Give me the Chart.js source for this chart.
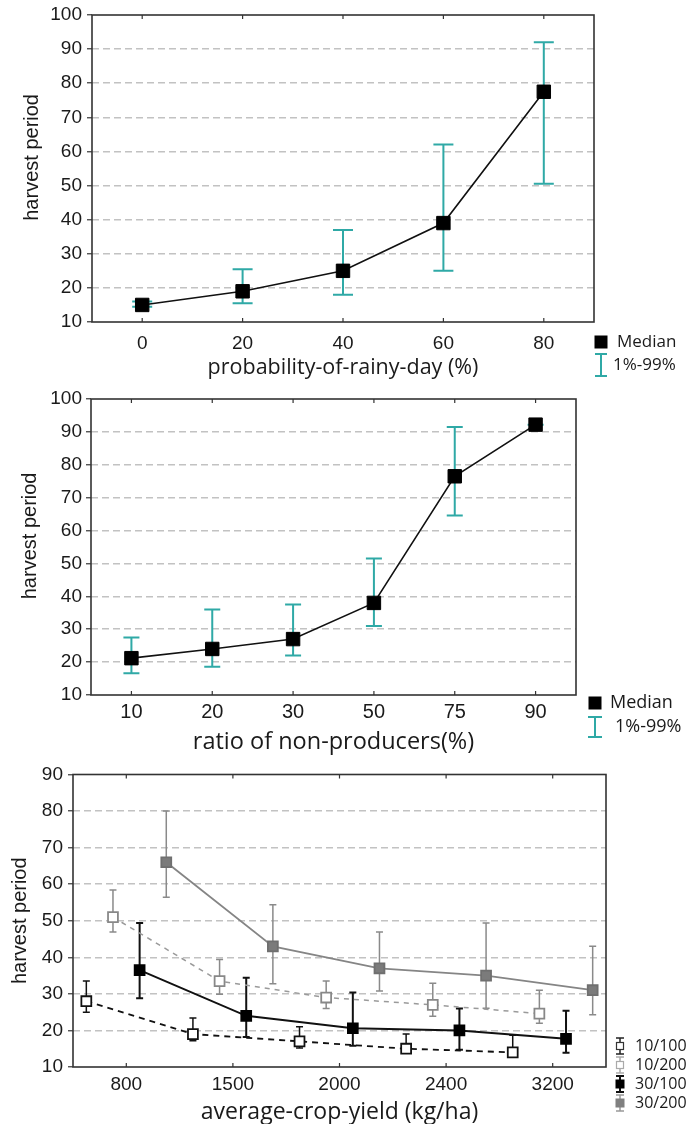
<!DOCTYPE html>
<html>
<head>
<meta charset="utf-8">
<script src="https://cdn.jsdelivr.net/npm/chart.js@4/dist/chart.umd.min.js"></script>
<style>
  html, body { margin:0; padding:0; background:#fff; }
  body { width:691px; height:1124px; position:relative; overflow:hidden; }
  canvas { position:absolute; left:0; }
  #c1 { top:0; }
  #c2 { top:380px; }
  #c3 { top:760px; }
</style>
</head>
<body>
<canvas id="c1" width="691" height="380"></canvas>
<canvas id="c2" width="691" height="380"></canvas>
<canvas id="c3" width="691" height="364"></canvas>
<script>
// ---------- DATA ----------
const rainyLabels = ['0', '20', '40', '60', '80'];
const rainyMedian = [15, 19, 25, 39, 77.5];
const rainyP1 = [14.5, 15.5, 18, 25, 50.5];
const rainyP99 = [16, 25.5, 37, 62, 92];

const nonProdLabels = ['10', '20', '30', '50', '75', '90'];
const nonProdMedian = [21.2, 24, 27, 38, 76.5, 92.2];
const nonProdP1 = [16.6, 18.6, 22, 31, 64.6, 92.2];
const nonProdP99 = [27.5, 36, 37.5, 51.5, 91.5, 92.2];

const yieldLabels = ['800', '1500', '2000', '2400', '3200'];
const s10_100 = [28, 19, 17, 15, 14];
const s10_100Low = [25, 17.2, 15.2, 14.5, 13];
const s10_100High = [33.5, 23.4, 21, 19, 18.7];
const s10_200 = [51, 33.5, 29, 27, 24.6];
const s10_200Low = [46.9, 29.9, 26, 23.9, 22];
const s10_200High = [58.4, 39.4, 33.5, 32.9, 31];
const s30_100 = [36.5, 24, 20.6, 20, 17.7];
const s30_100Low = [28.8, 18.2, 15.8, 14.7, 13.9];
const s30_100High = [49.4, 34.4, 30.4, 26, 25.4];
const s30_200 = [66, 43, 37, 35, 31];
const s30_200Low = [56.4, 32.8, 30.8, 26.1, 24.3];
const s30_200High = [80, 54.4, 46.9, 49.4, 43];

const seriesNames = ['10/100', '10/200', '30/100', '30/200'];
const yTicksTop = [10, 20, 30, 40, 50, 60, 70, 80, 90, 100];
const yTicksMid = [10, 20, 30, 40, 50, 60, 70, 80, 90, 100];
const yTicksBottom = [10, 20, 30, 40, 50, 60, 70, 80, 90];

// ---------- STYLE ----------
const TEAL = '#2fa9a6';
const TICK_FONT = { family: "'Liberation Sans', Arial, sans-serif", size: 19, lineHeight: 1 };
const openSans = (s) => ({ family: "'Open Sans', sans-serif", size: s, lineHeight: 1 });
const YTITLE_FONT = { family: "'Liberation Sans', Arial, sans-serif", size: 20, lineHeight: 1 };
const TEXT = '#1a1a1a';
const groupOffsets = [-0.375, -0.125, 0.125, 0.375];

function gridColor(ctx) {
  const sc = ctx.scale;
  if (!ctx.tick) return 'rgba(0,0,0,0)';
  if (ctx.tick.value <= sc.min || ctx.tick.value >= sc.max) return 'rgba(0,0,0,0)';
  return '#c2c2c2';
}

const framePlugin = {
  id: 'frame',
  beforeDatasetsDraw(chart) {
    const a = chart.chartArea, ctx = chart.ctx, xs = chart.scales.x;
    ctx.save();
    ctx.strokeStyle = '#333';
    ctx.lineWidth = 1.6;
    ctx.setLineDash([]);
    ctx.strokeRect(a.left, a.top, a.right - a.left, a.bottom - a.top);
    ctx.lineWidth = 1.2;
    ctx.beginPath();
    xs.ticks.forEach(t => {
      const x = xs.getPixelForValue(t.value);
      ctx.moveTo(x, a.bottom); ctx.lineTo(x, a.bottom - 4);
      ctx.moveTo(x, a.top); ctx.lineTo(x, a.top + 4);
    });
    ctx.stroke();
    ctx.restore();
  }
};

function errorBarPlugin(sets) {
  return {
    id: 'errbars',
    beforeDatasetsDraw(chart) {
      const ctx = chart.ctx, ys = chart.scales.y;
      ctx.save();
      ctx.setLineDash([]);
      sets.forEach(s => {
        const meta = chart.getDatasetMeta(s.dataset);
        meta.data.forEach((pt, j) => {
          const x = pt.x;
          const y1 = ys.getPixelForValue(s.low[j]);
          const y2 = ys.getPixelForValue(s.high[j]);
          ctx.strokeStyle = s.color;
          ctx.lineWidth = s.width;
          ctx.beginPath();
          ctx.moveTo(x, y1); ctx.lineTo(x, y2);
          ctx.moveTo(x - s.cap / 2, y1); ctx.lineTo(x + s.cap / 2, y1);
          ctx.moveTo(x - s.cap / 2, y2); ctx.lineTo(x + s.cap / 2, y2);
          ctx.stroke();
        });
      });
      ctx.restore();
    }
  };
}

function legendPlugin(items, fontSize) {
  return {
    id: 'customLegend',
    afterDraw(chart) {
      const ctx = chart.ctx;
      ctx.save();
      ctx.setLineDash([]);
      items.forEach(it => {
        if (it.bar) {
          ctx.strokeStyle = it.bar.color;
          ctx.lineWidth = it.bar.width;
          ctx.beginPath();
          const h = it.bar.h / 2, c = it.bar.cap / 2;
          ctx.moveTo(it.x, it.y - h); ctx.lineTo(it.x, it.y + h);
          ctx.moveTo(it.x - c, it.y - h); ctx.lineTo(it.x + c, it.y - h);
          ctx.moveTo(it.x - c, it.y + h); ctx.lineTo(it.x + c, it.y + h);
          ctx.stroke();
        }
        if (it.sq) {
          const s = it.sq.size;
          ctx.fillStyle = it.sq.fill;
          ctx.fillRect(it.x - s / 2, it.y - s / 2, s, s);
          if (it.sq.stroke) {
            ctx.strokeStyle = it.sq.stroke;
            ctx.lineWidth = it.sq.lw || 1.5;
            ctx.strokeRect(it.x - s / 2, it.y - s / 2, s, s);
          }
        }
        ctx.fillStyle = TEXT;
        ctx.font = fontSize + "px 'Open Sans', sans-serif";
        ctx.textAlign = 'left';
        ctx.textBaseline = 'middle';
        ctx.fillText(it.text, it.tx, it.y);
      });
      ctx.restore();
    }
  };
}

function yAxis(ticksArr, min, max, width, tickPad, titlePad, titleText) {
  return {
    type: 'linear', min: min, max: max,
    afterBuildTicks(s) { s.ticks = ticksArr.map(v => ({ value: v })); },
    grid: { color: gridColor, lineWidth: 1.5, drawTicks: true, tickLength: 5, tickColor: '#444', tickWidth: 1.3, tickBorderDash: [] },
    border: { display: false, dash: [7, 4] },
    ticks: { font: TICK_FONT, color: TEXT, padding: tickPad },
    title: { display: true, text: titleText, color: TEXT, font: YTITLE_FONT, padding: { top: titlePad, bottom: 0 } },
    afterFit(s) { s.width = width; }
  };
}

// ---------- CHART 1 ----------
new Chart(document.getElementById('c1'), {
  type: 'line',
  data: {
    labels: rainyLabels,
    datasets: [{
      label: 'Median', data: rainyMedian,
      borderColor: '#111', borderWidth: 1.6, tension: 0,
      pointStyle: 'rect', pointRadius: 9.5, pointBackgroundColor: '#000', pointBorderColor: '#000', pointBorderWidth: 1
    }]
  },
  options: {
    responsive: false, animation: false, events: [],
    layout: { padding: { left: 0, right: 97, top: 15, bottom: 0 } },
    plugins: { legend: { display: false }, tooltip: { enabled: false } },
    scales: {
      x: {
        type: 'category', offset: true,
        grid: { display: false, drawTicks: false }, border: { display: false },
        ticks: { font: TICK_FONT, color: TEXT, padding: 12 },
        title: { display: true, text: 'probability-of-rainy-day (%)', color: TEXT, font: openSans(21.5), padding: { top: 0, bottom: 1 } },
        afterFit(s) { s.height = 58; }
      },
      y: yAxis(yTicksTop, 10, 100, 92, 5, 22, '    harvest period')
    }
  },
  plugins: [
    framePlugin,
    errorBarPlugin([{ dataset: 0, low: rainyP1, high: rainyP99, color: TEAL, width: 2, cap: 20 }]),
    legendPlugin([
      { x: 601, y: 342, sq: { size: 13, fill: '#000' }, text: 'Median', tx: 617 },
      { x: 601, y: 365, bar: { h: 22, cap: 12, color: TEAL, width: 2 }, text: '1%-99%', tx: 613 }
    ], 17)
  ]
});

// ---------- CHART 2 ----------
new Chart(document.getElementById('c2'), {
  type: 'line',
  data: {
    labels: nonProdLabels,
    datasets: [{
      label: 'Median', data: nonProdMedian,
      borderColor: '#111', borderWidth: 1.6, tension: 0,
      pointStyle: 'rect', pointRadius: 9.5, pointBackgroundColor: '#000', pointBorderColor: '#000', pointBorderWidth: 1
    }]
  },
  options: {
    responsive: false, animation: false, events: [],
    layout: { padding: { left: 0, right: 115, top: 19, bottom: 0 } },
    plugins: { legend: { display: false }, tooltip: { enabled: false } },
    scales: {
      x: {
        type: 'category', offset: true,
        grid: { display: false, drawTicks: false }, border: { display: false },
        ticks: { font: { family: "'Liberation Sans', Arial, sans-serif", size: 20, lineHeight: 1 }, color: TEXT, padding: 7 },
        title: { display: true, text: 'ratio of non-producers(%)', color: TEXT, font: openSans(23.5), padding: { top: 0, bottom: 6 } },
        afterFit(s) { s.height = 65; }
      },
      y: yAxis(yTicksMid, 10, 100, 91, 4, 20, '    harvest period')
    }
  },
  plugins: [
    framePlugin,
    errorBarPlugin([{ dataset: 0, low: nonProdP1, high: nonProdP99, color: TEAL, width: 2, cap: 16 }]),
    legendPlugin([
      { x: 595, y: 323, sq: { size: 13, fill: '#000' }, text: 'Median', tx: 610 },
      { x: 595, y: 347, bar: { h: 20, cap: 14, color: TEAL, width: 2 }, text: '1%-99%', tx: 615 }
    ], 18)
  ]
});

// ---------- CHART 3 ----------
const s3 = [
  { vals: s10_100, low: s10_100Low, high: s10_100High, line: '#111', dash: [6, 5], lw: 1.8, fill: '#fff', edge: '#111', ebar: '#111', ebw: 1.5 },
  { vals: s10_200, low: s10_200Low, high: s10_200High, line: '#9a9a9a', dash: [5, 5], lw: 1.5, fill: '#fff', edge: '#888', ebar: '#8a8a8a', ebw: 1.5 },
  { vals: s30_100, low: s30_100Low, high: s30_100High, line: '#111', dash: [], lw: 2, fill: '#000', edge: '#000', ebar: '#111', ebw: 2 },
  { vals: s30_200, low: s30_200Low, high: s30_200High, line: '#858585', dash: [], lw: 1.8, fill: '#7b7b7b', edge: '#6f6f6f', ebar: '#8a8a8a', ebw: 1.5 }
];

new Chart(document.getElementById('c3'), {
  type: 'line',
  data: {
    datasets: s3.map((s, k) => ({
      label: seriesNames[k],
      data: s.vals.map((v, i) => ({ x: i + groupOffsets[k], y: v })),
      borderColor: s.line, borderWidth: s.lw, borderDash: s.dash, tension: 0,
      pointStyle: 'rect', pointRadius: 7, pointBackgroundColor: s.fill, pointBorderColor: s.edge, pointBorderWidth: 1.8
    }))
  },
  options: {
    responsive: false, animation: false, events: [],
    layout: { padding: { left: 0, right: 85, top: 9, bottom: 0 } },
    plugins: { legend: { display: false }, tooltip: { enabled: false } },
    scales: {
      x: {
        type: 'linear', min: -0.5, max: 4.5,
        afterBuildTicks(s) { s.ticks = yieldLabels.map((_, i) => ({ value: i })); },
        grid: { display: false, drawTicks: false }, border: { display: false },
        ticks: { font: TICK_FONT, color: TEXT, padding: 8, callback: (v) => yieldLabels[v] },
        title: { display: true, text: 'average-crop-yield (kg/ha)', color: TEXT, font: openSans(23), padding: { top: 0, bottom: 0 } },
        afterFit(s) { s.height = 57; }
      },
      y: yAxis(yTicksBottom, 10, 90, 73, 5, 10, 'harvest period')
    }
  },
  plugins: [
    framePlugin,
    errorBarPlugin(s3.map((s, k) => ({ dataset: k, low: s.low, high: s.high, color: s.ebar, width: s.ebw, cap: 7 }))),
    legendPlugin([
      { x: 620, y: 286, bar: { h: 16, cap: 8, color: '#222', width: 1.5 }, sq: { size: 7, fill: '#fff', stroke: '#333', lw: 1.2 }, text: seriesNames[0], tx: 635 },
      { x: 620, y: 305, bar: { h: 16, cap: 8, color: '#aaa', width: 1.5 }, sq: { size: 7, fill: '#fff', stroke: '#aaa', lw: 1.2 }, text: seriesNames[1], tx: 635 },
      { x: 620, y: 324, bar: { h: 16, cap: 8, color: '#111', width: 2 }, sq: { size: 9, fill: '#000' }, text: seriesNames[2], tx: 635 },
      { x: 620, y: 343, bar: { h: 16, cap: 8, color: '#999', width: 1.5 }, sq: { size: 9, fill: '#808080' }, text: seriesNames[3], tx: 635 }
    ], 16)
  ]
});
</script>
</body>
</html>
